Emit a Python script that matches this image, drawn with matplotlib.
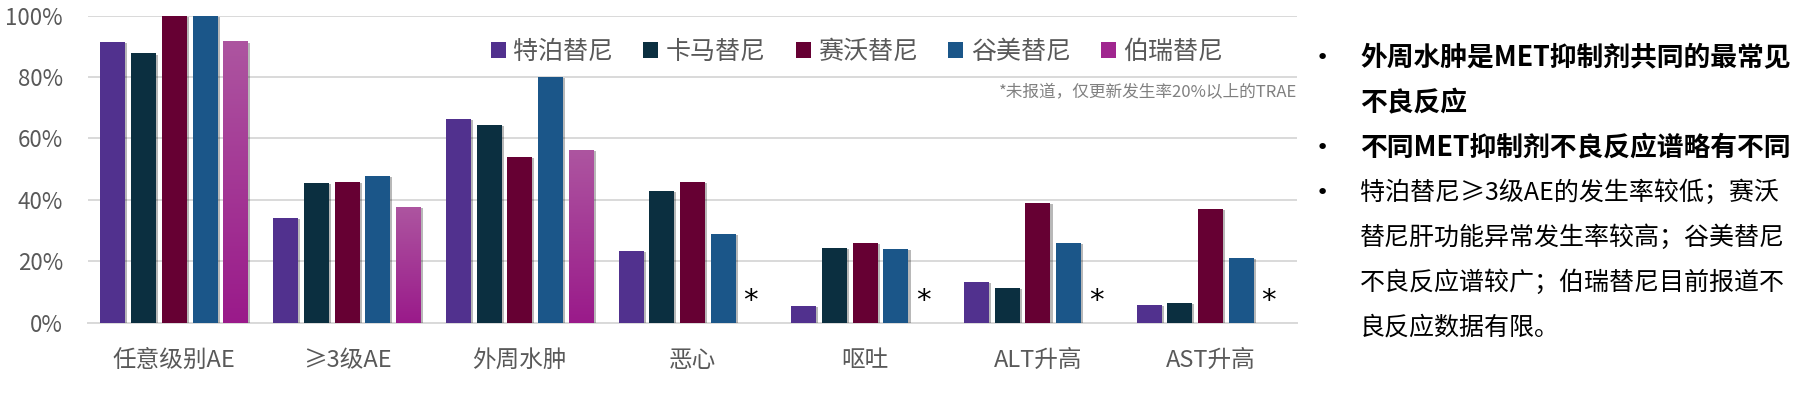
import matplotlib
matplotlib.use('Agg')
import matplotlib.pyplot as plt
import numpy as np
from matplotlib.patches import Patch
from matplotlib.colors import LinearSegmentedColormap
import matplotlib.patheffects as pe

plt.rcParams['font.family'] = ['Noto Sans CJK SC', 'DejaVu Sans']

# ---------------- data ----------------
categories = ['任意级别AE', '≥3级AE', '外周水肿', '恶心', '呕吐', 'ALT升高', 'AST升高']
drugs = ['特泊替尼', '卡马替尼', '赛沃替尼', '谷美替尼', '伯瑞替尼']
tepotinib = [91.4, 34.1, 66.3, 23.3, 5.4, 13.2, 5.8]
capmatinib = [87.8, 45.5, 64.4, 42.9, 24.3, 11.3, 6.4]
savolitinib = [100.0, 45.8, 54.0, 45.8, 26.0, 39.0, 37.0]
glumetinib = [100.0, 47.8, 80.0, 28.9, 24.0, 26.0, 21.1]
bozitinib = [91.7, 37.7, 56.2, np.nan, np.nan, np.nan, np.nan]
not_reported_mark = '*'
footnote = '*未报道，仅更新发生率20%以上的TRAE'
yticks = [0, 20, 40, 60, 80, 100]

bullets = [
    ('外周水肿是MET抑制剂共同的最常见', True, True),
    ('不良反应', True, False),
    ('不同MET抑制剂不良反应谱略有不同', True, True),
    ('特泊替尼≥3级AE的发生率较低；赛沃', False, True),
    ('替尼肝功能异常发生率较高；谷美替尼', False, False),
    ('不良反应谱较广；伯瑞替尼目前报道不', False, False),
    ('良反应数据有限。', False, False),
]

# ---------------- style ----------------
colors = ['#51318E', '#0B2F40', '#660033', '#1B5689', '#A0268F']
grad_top, grad_bot = '#AD55A0', '#9A1A8A'
grid_c = '#D9D9D9'
txt_c = '#595959'

W, H = 1803, 420
fig = plt.figure(figsize=(W / 100, H / 100), dpi=100)
ax = fig.add_axes([88 / W, 1 - 322.5 / H, (1297 - 88) / W, (322.5 - 15.7) / H])

series = [tepotinib, capmatinib, savolitinib, glumetinib, bozitinib]
x = np.arange(len(categories))
pitch = 0.178
bw = 0.1447
shadow = [pe.SimplePatchShadow(offset=(1.5, -1.0), shadow_rgbFace='#000000', alpha=0.28), pe.Normal()]

cmap = LinearSegmentedColormap.from_list('g', [grad_bot, grad_top])
for j, (vals, c) in enumerate(zip(series, colors)):
    v = np.array(vals, dtype=float)
    bars = ax.bar(x + (j - 2) * pitch, np.nan_to_num(v), width=bw, color=c, zorder=3,
                  linewidth=0)
    for p, val in zip(bars.patches, v):
        if np.isnan(val):
            p.set_visible(False)
            continue
        p.set_path_effects(shadow)
        if j == 4:
            x0, w, h = p.get_x(), p.get_width(), p.get_height()
            grad = np.linspace(0, 1, 256).reshape(-1, 1)
            ax.imshow(grad, extent=[x0, x0 + w, 0, h], origin='lower', aspect='auto',
                      cmap=cmap, zorder=3.5)
    # asterisks for not reported
    for i, val in enumerate(v):
        if np.isnan(val):
            ax.text(x[i] + (j - 2) * pitch - 0.02, 4.4, not_reported_mark, ha='center',
                    va='baseline', fontsize=21, color='black', family='DejaVu Sans', zorder=4)

ax.set_xlim(-0.5, len(categories) - 0.5)
ax.set_ylim(0, 100)
ax.set_yticks(yticks)
ax.set_yticklabels([f'{t}%' for t in yticks])
ax.set_xticks(x)
ax.set_xticklabels(categories)
ax.tick_params(axis='y', length=0, pad=18, labelsize=16, labelcolor=txt_c)
ax.tick_params(axis='x', length=0, pad=19, labelsize=17, labelcolor=txt_c)
for s in ['left', 'right', 'top']:
    ax.spines[s].set_visible(False)
ax.spines['bottom'].set_color(grid_c)
ax.spines['bottom'].set_linewidth(1.4)
ax.yaxis.grid(True, color=grid_c, linewidth=1.4, zorder=0)
ax.set_axisbelow(True)

handles = [Patch(facecolor=c, edgecolor='none') for c in colors]
leg = fig.legend(handles, drugs, loc='center', bbox_to_anchor=(857 / W, 1 - 52 / H), ncol=5,
                 frameon=False, fontsize=18, handlelength=0.6, handleheight=0.6,
                 handletextpad=0.3, columnspacing=1.2, labelcolor=txt_c)

ax.text(1.0, 1 - (93 - 15.7) / (322.5 - 15.7), footnote, transform=ax.transAxes,
        ha='right', va='center', fontsize=12, color='#808080')

# right-side text
y0 = 58
for k, (line, bold, bullet) in enumerate(bullets):
    yy = 1 - (y0 + 45 * k) / H
    if bullet:
        fig.text(1322 / W, yy, '•', ha='center', va='center', fontsize=16, color='black',
                 family='DejaVu Sans')
    fig.text(1360 / W, yy, line, ha='left', va='center', fontsize=19.3 if bold else 18,
             fontweight='bold' if bold else 'normal', color='black')

fig.savefig('out.png', dpi=100)
